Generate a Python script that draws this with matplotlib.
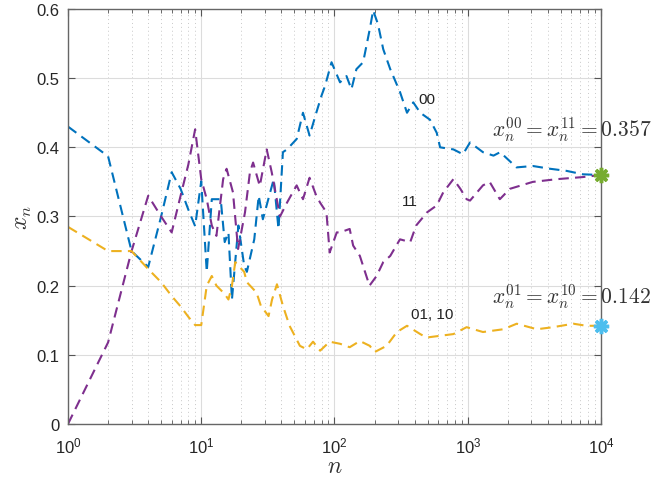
import matplotlib.pyplot as plt
from matplotlib.ticker import FuncFormatter, LogLocator, NullFormatter

plt.rcParams['font.family'] = ['Liberation Sans', 'DejaVu Sans']
plt.rcParams['mathtext.fontset'] = 'cm'

# series "00" (blue)
n_00 = [1, 2, 3, 4, 5, 6, 7, 8, 9, 10, 11, 12, 14, 15, 16, 17, 19, 21, 22, 25,
        27, 29, 35, 38, 41, 44, 52, 58, 65, 73, 80, 85, 95, 110, 123, 134, 146,
        164, 184, 195, 212, 232, 262, 310, 350, 390, 440, 520, 585, 620, 780,
        920, 1040, 1300, 1560, 1750, 2320, 3080, 4150, 5500, 7300, 10000]
x_00 = [0.43, 0.387, 0.25, 0.227, 0.30, 0.364, 0.34, 0.31, 0.286, 0.351, 0.22,
        0.325, 0.325, 0.263, 0.277, 0.18, 0.287, 0.229, 0.22, 0.267, 0.33, 0.296,
        0.354, 0.282, 0.393, 0.397, 0.412, 0.45, 0.417, 0.45, 0.475, 0.489, 0.523,
        0.494, 0.503, 0.484, 0.513, 0.523, 0.571, 0.598, 0.578, 0.542, 0.513,
        0.48, 0.45, 0.465, 0.45, 0.44, 0.421, 0.40, 0.397, 0.39, 0.407, 0.393,
        0.388, 0.393, 0.371, 0.373, 0.369, 0.366, 0.361, 0.36]

# series "11" (purple)
n_11 = [1, 2, 3, 4, 5, 6, 7, 8, 9, 10, 11, 12, 13, 14.6, 15.5, 17.3, 18.9, 21.3,
        23.2, 24.5, 27.5, 31, 33.8, 39, 44, 52, 58, 65, 73, 78, 87, 92, 104, 110,
        130, 138, 155, 183, 207, 232, 262, 310, 370, 410, 495, 585, 655, 780,
        880, 980, 1040, 1300, 1460, 1740, 2070, 3070, 4680, 7300, 10000]
x_11 = [0.0, 0.118, 0.25, 0.33, 0.30, 0.277, 0.33, 0.375, 0.426, 0.354, 0.325,
        0.287, 0.272, 0.354, 0.369, 0.335, 0.253, 0.306, 0.364, 0.378, 0.344,
        0.397, 0.364, 0.30, 0.32, 0.345, 0.325, 0.356, 0.33, 0.32, 0.306, 0.248,
        0.277, 0.277, 0.282, 0.258, 0.243, 0.20, 0.214, 0.234, 0.243, 0.267,
        0.263, 0.287, 0.306, 0.316, 0.335, 0.354, 0.34, 0.325, 0.323, 0.345,
        0.35, 0.325, 0.34, 0.35, 0.354, 0.357, 0.36]

# series "01, 10" (yellow)
n_01 = [1, 2, 3, 4, 5, 6, 7, 8, 9, 10, 11, 12, 13, 15, 16, 17, 18, 21, 22, 26,
        28, 32, 34, 37, 41, 46, 55, 62, 69, 78, 92, 110, 130, 155, 184, 200,
        246, 294, 350, 440, 490, 780, 980, 1300, 1850, 2330, 3300, 4370, 6200,
        7780, 10000]
x_01 = [0.285, 0.25, 0.25, 0.224, 0.205, 0.185, 0.17, 0.155, 0.143, 0.143, 0.2,
        0.214, 0.2, 0.188, 0.18, 0.2, 0.234, 0.22, 0.205, 0.19, 0.171, 0.156,
        0.18, 0.202, 0.171, 0.142, 0.113, 0.108, 0.119, 0.106, 0.119, 0.116,
        0.111, 0.12, 0.113, 0.104, 0.113, 0.133, 0.142, 0.13, 0.125, 0.13, 0.14,
        0.133, 0.137, 0.145, 0.137, 0.14, 0.145, 0.142, 0.142]

limit_same = 0.36
limit_diff = 0.142

fig = plt.figure(figsize=(6.69, 4.85), dpi=100)
ax = fig.add_axes([0.1016, 0.1237, 0.7968, 0.8557])

dash = (5, 3)
ax.plot(n_00, x_00, color='#0072BD', lw=1.5, dashes=dash)
ax.plot(n_11, x_11, color='#7E2F8E', lw=1.5, dashes=dash)
ax.plot(n_01, x_01, color='#EDB120', lw=1.5, dashes=dash)

ax.plot([n_00[-1]], [limit_same], marker=(8, 2, 0), ms=11, mew=2.5,
        color='#77AC30', clip_on=False, zorder=5)
ax.plot([n_01[-1]], [limit_diff], marker=(8, 2, 0), ms=11, mew=2.5,
        color='#4DBEEE', clip_on=False, zorder=5)

ax.set_xscale('log')
ax.set_xlim(1, 1e4)
ax.set_ylim(0, 0.6)
ax.set_yticks([0, 0.1, 0.2, 0.3, 0.4, 0.5, 0.6])
ax.yaxis.set_major_formatter(FuncFormatter(lambda v, p: '%g' % v))
ax.xaxis.set_minor_locator(LogLocator(base=10, subs=range(2, 10), numticks=20))
ax.xaxis.set_minor_formatter(NullFormatter())

ax.grid(True, which='major', color='#dcdcdc', lw=0.8)
ax.grid(True, which='minor', axis='x', color='#c8c8c8', lw=0.7, ls=(0, (1, 3)))
ax.set_axisbelow(True)

ax.tick_params(which='both', direction='in', top=True, right=True,
               colors='#555555', labelcolor='#262626', labelsize=12)
ax.tick_params(which='major', length=5)
ax.tick_params(which='minor', length=3)
ax.tick_params(axis='x', which='major', pad=8)
ax.tick_params(axis='y', which='major', pad=6)
for s in ax.spines.values():
    s.set_color('#666666')
    s.set_linewidth(1.0)

ax.set_xlabel('$n$', fontsize=17, color='#333333', labelpad=0)
ax.set_ylabel('$x_n$', fontsize=17, color='#333333', labelpad=2)

ax.text(490, 0.47, '00', fontsize=11, color='#222222', ha='center', va='center')
ax.text(370, 0.323, '11', fontsize=11, color='#222222', ha='center', va='center')
ax.text(540, 0.159, '01, 10', fontsize=11, color='#222222', ha='center', va='center')

ax.text(1520, 0.426, r'$x_n^{00} = x_n^{11} = 0.357$', fontsize=15.5,
        color='#333333', ha='left', va='center', clip_on=False)
ax.text(1520, 0.184, r'$x_n^{01} = x_n^{10} = 0.142$', fontsize=15.5,
        color='#333333', ha='left', va='center', clip_on=False)

fig.savefig('out.png', dpi=100)
